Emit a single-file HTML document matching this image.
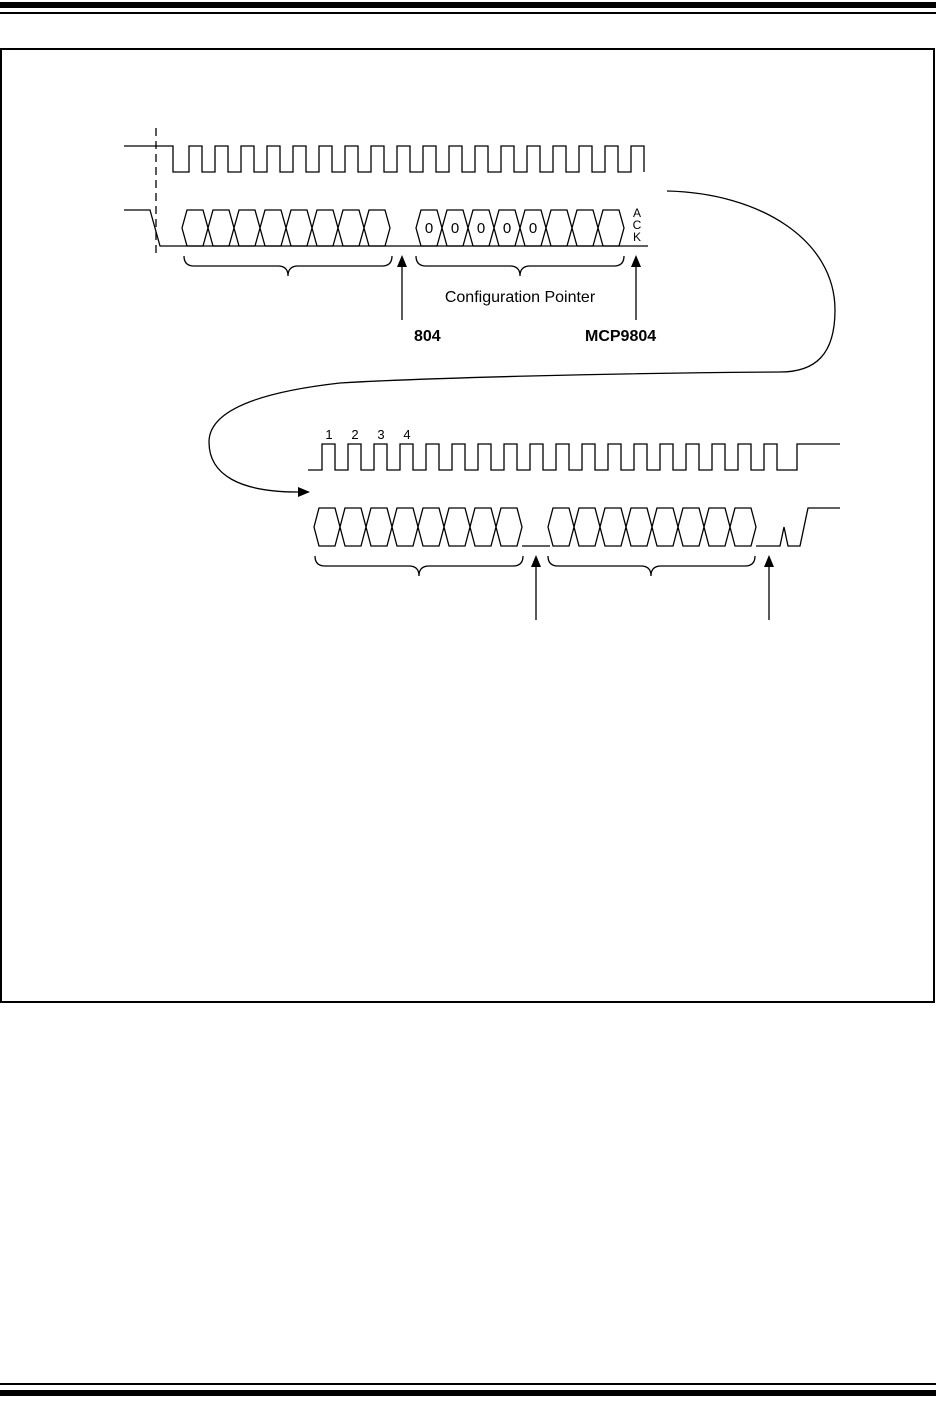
<!DOCTYPE html>
<html><head><meta charset="utf-8"><style>
body{margin:0;background:#fff;}
svg{display:block}
text{font-family:"Liberation Sans",sans-serif;}
</style></head><body>
<svg width="936" height="1412" viewBox="0 0 936 1412" xmlns="http://www.w3.org/2000/svg">
<rect x="0" y="2" width="936" height="6" fill="#000"/>
<rect x="0" y="12" width="936" height="2" fill="#000"/>
<rect x="0" y="1383" width="936" height="2" fill="#000"/>
<rect x="0" y="1390" width="936" height="6" fill="#000"/>
<rect x="1" y="49" width="933" height="953" fill="none" stroke="#000" stroke-width="2"/>
<g fill="none" stroke="#000" stroke-width="1.3">
<line x1="156" y1="128" x2="156" y2="256" stroke-dasharray="8,5"/>
<path d="M124,146 L173,146 L173,172 L189,172 v-26h13v26h13 v-26h13v26h13 v-26h13v26h13 v-26h13v26h13 v-26h13v26h13 v-26h13v26h13 v-26h13v26h13 v-26h13v26h13 v-26h13v26h13 v-26h13v26h13 v-26h13v26h13 v-26h13v26h13 v-26h13v26h13 v-26h13v26h13 v-26h13v26h13 v-26h13v26h13 v-26h13v26h13 v-26h13v26"/>
<path d="M124,210 L150,210 L160,246 L648,246"/>
<path d="M182,228 l5,-18h16l5,18l-5,18h-16z m26,0 l5,-18h16l5,18l-5,18h-16z m26,0 l5,-18h16l5,18l-5,18h-16z m26,0 l5,-18h16l5,18l-5,18h-16z m26,0 l5,-18h16l5,18l-5,18h-16z m26,0 l5,-18h16l5,18l-5,18h-16z m26,0 l5,-18h16l5,18l-5,18h-16z m26,0 l5,-18h16l5,18l-5,18h-16z"/>
<path d="M416,228 l5,-18h16l5,18l-5,18h-16z m26,0 l5,-18h16l5,18l-5,18h-16z m26,0 l5,-18h16l5,18l-5,18h-16z m26,0 l5,-18h16l5,18l-5,18h-16z m26,0 l5,-18h16l5,18l-5,18h-16z m26,0 l5,-18h16l5,18l-5,18h-16z m26,0 l5,-18h16l5,18l-5,18h-16z m26,0 l5,-18h16l5,18l-5,18h-16z"/>
<path d="M308,470 L322,470 v-26h13v26h13 v-26h13v26h13 v-26h13v26h13 v-26h13v26h13 v-26h13v26h13 v-26h13v26h13 v-26h13v26h13 v-26h13v26h13 v-26h13v26h13 v-26h13v26h13 v-26h13v26h13 v-26h13v26h13 v-26h13v26h13 v-26h13v26h13 v-26h13v26h13 v-26h13v26h13 v-26h13v26h13 v-26h13v26h13 h7 v-26 H840"/>
<path d="M314,527 l5,-19h16l5,19l-5,19h-16z m26,0 l5,-19h16l5,19l-5,19h-16z m26,0 l5,-19h16l5,19l-5,19h-16z m26,0 l5,-19h16l5,19l-5,19h-16z m26,0 l5,-19h16l5,19l-5,19h-16z m26,0 l5,-19h16l5,19l-5,19h-16z m26,0 l5,-19h16l5,19l-5,19h-16z m26,0 l5,-19h16l5,19l-5,19h-16z"/>
<path d="M548,527 l5,-19h16l5,19l-5,19h-16z m26,0 l5,-19h16l5,19l-5,19h-16z m26,0 l5,-19h16l5,19l-5,19h-16z m26,0 l5,-19h16l5,19l-5,19h-16z m26,0 l5,-19h16l5,19l-5,19h-16z m26,0 l5,-19h16l5,19l-5,19h-16z m26,0 l5,-19h16l5,19l-5,19h-16z m26,0 l5,-19h16l5,19l-5,19h-16z"/>
<path d="M522,546 L550,546 M756,546 L780,546 L784,527 L788,546 L800,546 L808,508 L840,508"/>
<path d="M184,256 Q184,266 194,266 L278,266 Q288,266 288,276 Q288,266 298,266 L382,266 Q392,266 392,256"/>
<path d="M416,256 Q416,266 426,266 L510,266 Q520,266 520,276 Q520,266 530,266 L614,266 Q624,266 624,256"/>
<path d="M315,556 Q315,566 325,566 L409,566 Q419,566 419,576 Q419,566 429,566 L513,566 Q523,566 523,556"/>
<path d="M548,556 Q548,566 558,566 L641,566 Q651,566 651,576 Q651,566 661,566 L745,566 Q755,566 755,556"/>
<path d="M667,191 C760,193 835,240 835,310 C835,355 815,372 780,372 C620,373 420,378 340,383 C260,392 209,410 209,442 C209,475 240,492 298,492"/>
<line x1="402" y1="266" x2="402" y2="320"/><line x1="636" y1="266" x2="636" y2="320"/>
<line x1="536" y1="566" x2="536" y2="620"/><line x1="769" y1="566" x2="769" y2="620"/>
</g>
<g fill="#000">
<polygon points="310,492 298,487 298,497"/>
<polygon points="402,255 397,267 407,267"/><polygon points="636,255 631,267 641,267"/>
<polygon points="536,555 531,567 541,567"/><polygon points="769,555 764,567 774,567"/>
</g>
<g font-size="15" fill="#000">
<g text-anchor="middle"><text x="429" y="233">0</text><text x="455" y="233">0</text><text x="481" y="233">0</text><text x="507" y="233">0</text><text x="533" y="233">0</text></g>
<text x="637" y="217" font-size="12" text-anchor="middle">A</text>
<text x="637" y="229" font-size="12" text-anchor="middle">C</text>
<text x="637" y="241" font-size="12" text-anchor="middle">K</text>
<text x="520" y="302" font-size="16" text-anchor="middle">Configuration Pointer</text>
<text x="414" y="341" font-size="16" font-weight="bold">804</text>
<text x="585" y="341" font-size="16" font-weight="bold">MCP9804</text>
<text x="329" y="439" font-size="13" text-anchor="middle">1</text>
<text x="355" y="439" font-size="13" text-anchor="middle">2</text>
<text x="381" y="439" font-size="13" text-anchor="middle">3</text>
<text x="407" y="439" font-size="13" text-anchor="middle">4</text>
</g>
</svg>
</body></html>
